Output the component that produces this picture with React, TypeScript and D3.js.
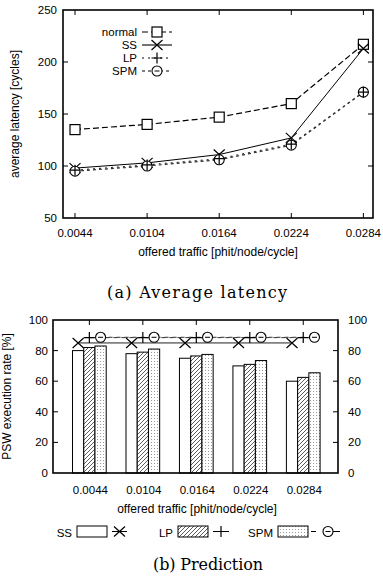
import React from "react";
import * as d3 from "d3";

// top chart: average latency
const traffic = [0.0044, 0.0104, 0.0164, 0.0224, 0.0284];
const trafficLabels = ["0.0044", "0.0104", "0.0164", "0.0224", "0.0284"];
const latencyNormal = [135, 140, 147, 160, 217];
const latencySS = [98, 103, 111, 127, 213];
const latencyLP = [96, 101, 107, 121, 171];
const latencySPM = [95, 100, 106, 120, 171];
const latencyTicks = [50, 100, 150, 200, 250];

// bottom chart: prediction
const rateSS = [80, 78, 75, 70, 60];
const rateLP = [82, 79, 76.5, 71, 62.5];
const rateSPM = [83, 81, 77.5, 73.5, 65.5];
const execSS = [85, 85, 85, 85, 85];
const execLP = [88.5, 88.5, 88.5, 88.5, 88.5];
const execSPM = [88.7, 88.7, 88.7, 88.7, 88.7];
const rateTicks = [0, 20, 40, 60, 80, 100];

const FONT = "'Liberation Sans', Arial, sans-serif";
const SERIF = "'DejaVu Serif', serif";

const Square = ({ x, y }: { x: number; y: number }) => (
  <rect x={x - 5} y={y - 5} width={10} height={10} fill="white" stroke="#000" strokeWidth={1.2} />
);
const Cross = ({ x, y }: { x: number; y: number }) => (
  <path d={`M${x - 5.5},${y - 5}L${x + 5.5},${y + 5}M${x - 5.5},${y + 5}L${x + 5.5},${y - 5}`} stroke="#000" strokeWidth={1.2} />
);
const Plus = ({ x, y }: { x: number; y: number }) => (
  <path d={`M${x - 5.5},${y}L${x + 5.5},${y}M${x},${y - 5.5}L${x},${y + 5.5}`} stroke="#000" strokeWidth={1.2} />
);
const Circle = ({ x, y }: { x: number; y: number }) => (
  <circle cx={x} cy={y} r={5} fill="white" stroke="#000" strokeWidth={1.1} />
);
const CircleDash = ({ x, y }: { x: number; y: number }) => (
  <g>
    <circle cx={x} cy={y} r={5} fill="white" stroke="#000" strokeWidth={1.1} />
    <line x1={x - 2.5} x2={x + 2.5} y1={y} y2={y} stroke="#000" strokeWidth={1} />
  </g>
);

const LatencyChart = () => {
  const left = 63, right = 373, top = 10, bottom = 218;
  const x = d3.scaleLinear().domain([0.0034, 0.0292]).range([left, right]);
  const y = d3.scaleLinear().domain([50, 250]).range([bottom, top]);
  const line = (vals: number[]) =>
    d3.line<number>().x((_, i) => x(traffic[i])).y((d) => y(d))(vals) || "";

  const legend = [
    { name: "normal", dash: "6,3", m: "sq" },
    { name: "SS", dash: "none", m: "x" },
    { name: "LP", dash: "2,4", m: "plus" },
    { name: "SPM", dash: "3,3", m: "circ" },
  ];
  const legendY = [32, 45, 58, 71];

  return (
    <g>
      <g fontFamily={FONT} fontSize={11.5} fill="#000">
        {latencyTicks.map((t) => (
          <g key={t}>
            <text x={left - 6} y={y(t) + 4} textAnchor="end">{t}</text>
            {t !== 50 && t !== 250 && (
              <>
                <line x1={left} x2={left + 5} y1={y(t)} y2={y(t)} stroke="#000" />
                <line x1={right - 5} x2={right} y1={y(t)} y2={y(t)} stroke="#000" />
              </>
            )}
          </g>
        ))}
        {traffic.map((t, i) => (
          <g key={t}>
            <text x={x(t)} y={237} textAnchor="middle">{trafficLabels[i]}</text>
            <line x1={x(t)} x2={x(t)} y1={bottom} y2={bottom - 5} stroke="#000" />
            <line x1={x(t)} x2={x(t)} y1={top} y2={top + 5} stroke="#000" />
          </g>
        ))}
        <text x={218} y={256} textAnchor="middle" fontSize={12}>offered traffic [phit/node/cycle]</text>
        <text transform={`translate(19,${(top + bottom) / 2}) rotate(-90)`} textAnchor="middle" fontSize={12}>
          average latency [cycles]
        </text>
      </g>

      <path d={line(latencyNormal)} fill="none" stroke="#000" strokeWidth={1.2} strokeDasharray="6,3" />
      <path d={line(latencySS)} fill="none" stroke="#000" strokeWidth={1} />
      <path d={line(latencyLP)} fill="none" stroke="#333" strokeWidth={1.2} strokeDasharray="2,4" />
      <path d={line(latencySPM)} fill="none" stroke="#333" strokeWidth={1.2} strokeDasharray="3,3" />

      {traffic.map((t, i) => (
        <g key={t}>
          <Square x={x(t)} y={y(latencyNormal[i])} />
          <Cross x={x(t)} y={y(latencySS[i])} />
          <Circle x={x(t)} y={y(latencySPM[i])} />
          <Plus x={x(t)} y={y(latencyLP[i])} />
        </g>
      ))}

      {legend.map((l, i) => (
        <g key={l.name}>
          <text x={137} y={legendY[i] + 4} textAnchor="end" fontFamily={FONT} fontSize={11.5}>{l.name}</text>
          <line x1={142} x2={172} y1={legendY[i]} y2={legendY[i]} stroke="#000" strokeWidth={1.1} strokeDasharray={l.dash} />
          {l.m === "sq" && <Square x={157} y={legendY[i]} />}
          {l.m === "x" && <Cross x={157} y={legendY[i]} />}
          {l.m === "plus" && <Plus x={157} y={legendY[i]} />}
          {l.m === "circ" && <CircleDash x={157} y={legendY[i]} />}
        </g>
      ))}

      <rect x={left} y={top} width={right - left} height={bottom - top} fill="none" stroke="#000" strokeWidth={1.6} />
      <text x={197} y={298} textAnchor="middle" fontFamily={SERIF} fontSize={16} textLength={180} lengthAdjust="spacing">
        (a) Average latency
      </text>
    </g>
  );
};

const PredictionChart = () => {
  const left = 53, right = 338, top = 320, bottom = 473;
  const x = d3.scaleLinear().domain([-0.68, 4.65]).range([left, right]);
  const y = d3.scaleLinear().domain([0, 100]).range([bottom, top]);
  const bw = 0.21;
  const w = x(bw) - x(0);
  const series = [
    { name: "SS", vals: rateSS, fill: "white", off: -bw },
    { name: "LP", vals: rateLP, fill: "url(#hatch)", off: 0 },
    { name: "SPM", vals: rateSPM, fill: "url(#dots)", off: bw },
  ];
  const line = (vals: number[], off: number) =>
    d3.line<number>().x((_, i) => x(i + off)).y((d) => y(d))(vals) || "";

  return (
    <g>
      <g fontFamily={FONT} fontSize={11.5} fill="#000">
        {rateTicks.map((t) => (
          <g key={t}>
            <text x={left - 5} y={y(t) + 4} textAnchor="end">{t}</text>
            <text x={right + 10} y={y(t) + 4} textAnchor="start">{t}</text>
            {t !== 0 && t !== 100 && (
              <>
                <line x1={left} x2={left + 5} y1={y(t)} y2={y(t)} stroke="#000" />
                <line x1={right - 5} x2={right} y1={y(t)} y2={y(t)} stroke="#000" />
              </>
            )}
          </g>
        ))}
        {trafficLabels.map((t, i) => (
          <g key={t}>
            <text x={x(i) + 1} y={494} textAnchor="middle">{t}</text>
            <line x1={x(i)} x2={x(i)} y1={top} y2={top + 5} stroke="#000" />
          </g>
        ))}
        <text x={197} y={513} textAnchor="middle" fontSize={12}>offered traffic [phit/node/cycle]</text>
        <text transform={`translate(11,${(top + bottom) / 2}) rotate(-90)`} textAnchor="middle" fontSize={12}>
          PSW execution rate [%]
        </text>
      </g>

      {series.map((s) =>
        s.vals.map((v, i) => (
          <rect
            key={s.name + i}
            x={x(i + s.off) - w / 2}
            y={y(v)}
            width={w}
            height={y(0) - y(v)}
            fill={s.fill}
            stroke="#000"
            strokeWidth={1}
          />
        ))
      )}

      <path d={line(execSS, -bw)} fill="none" stroke="#222" strokeWidth={1} />
      <path d={line(execLP, 0)} fill="none" stroke="#333" strokeWidth={1} strokeDasharray="4,4" />
      <path d={line(execSPM, bw)} fill="none" stroke="#333" strokeWidth={1} strokeDasharray="4,4" />
      {trafficLabels.map((t, i) => (
        <g key={t}>
          <Cross x={x(i - bw)} y={y(execSS[i])} />
          <Plus x={x(i)} y={y(execLP[i])} />
          <CircleDash x={x(i + bw)} y={y(execSPM[i])} />
        </g>
      ))}

      <rect x={left} y={top} width={right - left} height={bottom - top} fill="none" stroke="#000" strokeWidth={1.6} />

      {/* legend */}
      <g fontFamily={FONT} fontSize={11.5}>
        <text x={72} y={537} textAnchor="end">SS</text>
        <rect x={77} y={526} width={30} height={11} fill="white" stroke="#000" />
        <line x1={112} x2={127} y1={531.5} y2={531.5} stroke="#000" />
        <Cross x={119.5} y={531.5} />
        <text x={173} y={537} textAnchor="end">LP</text>
        <rect x={178} y={526} width={30} height={11} fill="url(#hatch)" stroke="#000" />
        <Plus x={221} y={531.5} />
        <line x1={213} x2={229} y1={531.5} y2={531.5} stroke="#000" />
        <text x={273} y={537} textAnchor="end">SPM</text>
        <rect x={278} y={526} width={30} height={11} fill="url(#dots)" stroke="#000" />
        <line x1={311} x2={316} y1={531.5} y2={531.5} stroke="#000" />
        <line x1={333} x2={340} y1={531.5} y2={531.5} stroke="#000" />
        <CircleDash x={328} y={531.5} />
      </g>
      <text x={208} y={570} textAnchor="middle" fontFamily={SERIF} fontSize={16} textLength={110} lengthAdjust="spacing">
        (b) Prediction
      </text>
    </g>
  );
};

export default function App() {
  return (
    <svg width={383} height={581} style={{ position: "absolute", left: 0, top: 0, background: "white" }}>
      <defs>
        <pattern id="hatch" patternUnits="userSpaceOnUse" width={4} height={4}>
          <rect width={4} height={4} fill="white" />
          <path d="M-1,1L1,-1M0,4L4,0M3,5L5,3" stroke="#333" strokeWidth={0.8} />
        </pattern>
        <pattern id="dots" patternUnits="userSpaceOnUse" width={3} height={3}>
          <rect width={3} height={3} fill="white" />
          <rect x={1} y={1} width={1} height={1} fill="#999" />
        </pattern>
      </defs>
      <rect width={383} height={581} fill="white" />
      <LatencyChart />
      <PredictionChart />
    </svg>
  );
}
